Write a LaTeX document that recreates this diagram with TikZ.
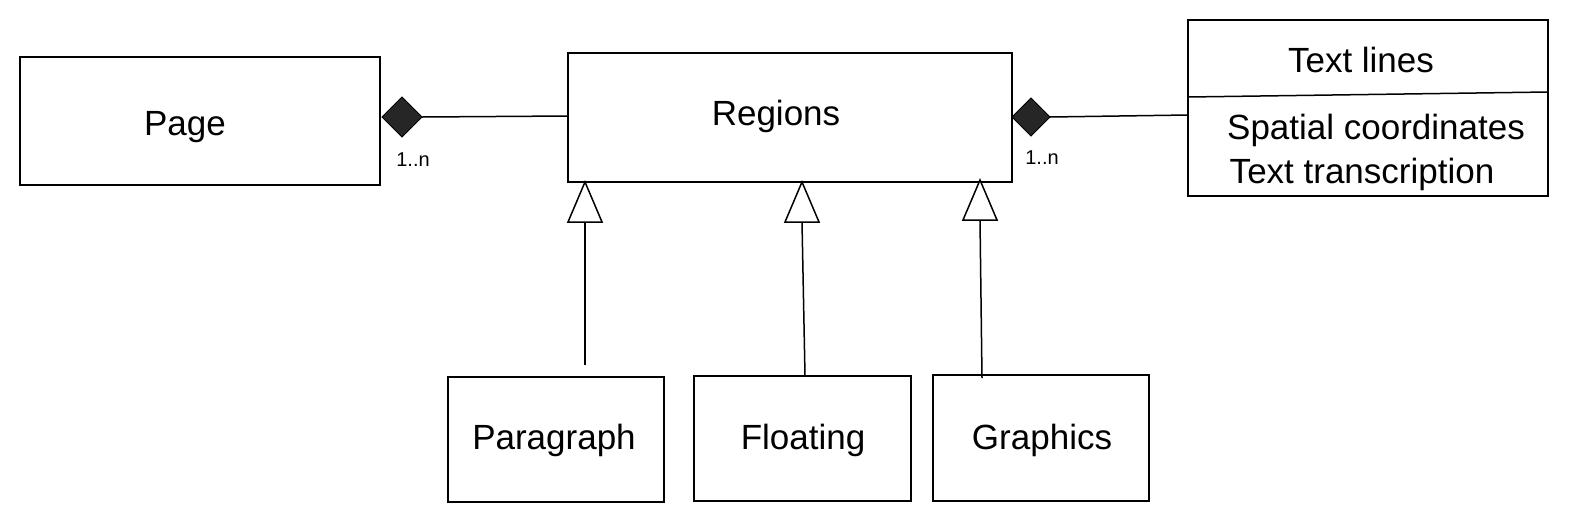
\documentclass[tikz,border=0pt]{standalone}
\usepackage{fontspec}
\setmainfont{Liberation Sans}
\begin{document}
\begin{tikzpicture}[x=1pt,y=-1pt,
  box/.style={draw,line width=1.5pt,inner sep=0pt},
  lbl/.style={font=\fontsize{35}{40}\selectfont},
  sm/.style={font=\fontsize{20}{24}\selectfont},
  comp/.style={line width=1.5pt},
  diam/.style={draw,fill=black!85,line width=1pt},
  tri/.style={draw,fill=white,line width=1.5pt}]
\useasboundingbox (0,0) rectangle (1570,523);
\draw[box] (20,57) rectangle (380,185);
\node[lbl] (page) at (185,127) {Page};
\coordinate (pageR) at (380,117);
\draw[box] (568,53) rectangle (1012,182);
\node[lbl] (reg) at (776,116) {Regions};
\draw[box] (1188,20) rectangle (1548,196);
\draw[line width=1.5pt] (1188,97) -- (1548,92);
\node[lbl] (tl) at (1361,60) {Text lines};
\node[lbl] (sc) at (1376,130) {Spatial coordinates};
\node[lbl] (tt) at (1362,174) {Text transcription};
\draw[box] (448,377) rectangle (664,502);
\node[lbl] (par) at (554,440) {Paragraph};
\draw[box] (694,376) rectangle (911,501);
\node[lbl] (flo) at (803,440) {Floating};
\draw[box] (933,375) rectangle (1149,501);
\node[lbl] (gra) at (1042,440) {Graphics};
% compositions
\coordinate (d1) at (402,117);
\draw[diam] (382,117) -- (402,97) -- (422,117) -- (402,137) -- cycle;
\coordinate (d1r) at (422,117);
\coordinate (r1) at (568,116);
\draw[comp] (d1r) -- (r1);
\node[sm] (n1) at (413,160) {1..n};
\draw[diam] (1012,117) -- (1031,98) -- (1050,117) -- (1031,136) -- cycle;
\coordinate (d2r) at (1050,117);
\coordinate (t1) at (1188,115);
\draw[comp] (d2r) -- (t1);
\node[sm] (n2) at (1042,158) {1..n};
% generalizations
\draw[tri] (585,182) -- (602,222) -- (568,222) -- cycle;
\coordinate (g1) at (585,222); \coordinate (p1) at (585,365);
\draw[comp] (g1) -- (p1);
\draw[tri] (802,182) -- (819,222) -- (785,222) -- cycle;
\coordinate (g2) at (802,222); \coordinate (p2) at (805,376);
\draw[comp] (g2) -- (p2);
\draw[tri] (980,180) -- (997,220) -- (963,220) -- cycle;
\coordinate (g3) at (980,220); \coordinate (p3) at (982,378);
\draw[comp] (g3) -- (p3);
\end{tikzpicture}
\end{document}
